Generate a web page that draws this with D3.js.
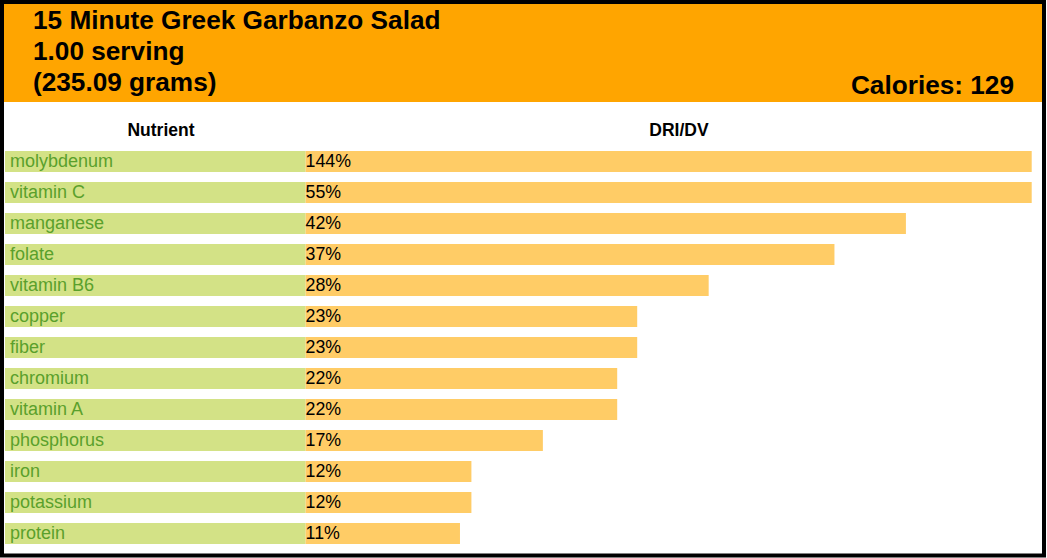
<!DOCTYPE html>
<html>
<head>
<meta charset="utf-8">
<script src="https://cdn.jsdelivr.net/npm/d3@7"></script>
<style>
  html, body { margin: 0; padding: 0; background: #fff; }
  svg { display: block; font-family: "Liberation Sans", Arial, sans-serif; }
</style>
</head>
<body>
<svg id="chart" width="1047" height="558"></svg>
<script>
const titleLines = ["15 Minute Greek Garbanzo Salad", "1.00 serving", "(235.09 grams)"];
const caloriesLabel = "Calories: 129";
const columnHeaders = ["Nutrient", "DRI/DV"];
const nutrients = ["molybdenum", "vitamin C", "manganese", "folate", "vitamin B6", "copper", "fiber", "chromium", "vitamin A", "phosphorus", "iron", "potassium", "protein"];
const dvPercent = [144, 55, 42.0, 37.0, 28.2, 23.2, 23.2, 21.8, 21.8, 16.6, 11.6, 11.6, 10.8];

const svg = d3.select("#chart");

// header
svg.append("rect").attr("x", 4).attr("y", 4).attr("width", 1038).attr("height", 98).attr("fill", "#FFA500");
svg.append("g").selectAll("text").data(titleLines).join("text")
  .attr("x", 33).attr("y", (d, i) => 29 + i * 31)
  .attr("font-size", 26.2).attr("font-weight", "bold").attr("fill", "#000")
  .text(d => d);
svg.append("text").attr("x", 1014).attr("y", 94).attr("text-anchor", "end")
  .attr("font-size", 26.2).attr("font-weight", "bold").attr("fill", "#000").text(caloriesLabel);

// column headers
svg.append("text").attr("x", 161).attr("y", 136).attr("text-anchor", "middle")
  .attr("font-size", 17.5).attr("font-weight", "bold").text(columnHeaders[0]);
svg.append("text").attr("x", 679).attr("y", 136).attr("text-anchor", "middle")
  .attr("font-size", 17.5).attr("font-weight", "bold").text(columnHeaders[1]);

const y = d3.scaleBand().domain(nutrients).range([151, 544]).paddingInner(10 / 31).paddingOuter(0);
const x = d3.scaleLinear().domain([0, 50.8]).range([305.6, 1031.7]).clamp(true);

const rows = svg.append("g").selectAll("g").data(nutrients).join("g")
  .attr("transform", d => `translate(0,${y(d)})`);

rows.append("rect").attr("x", 5).attr("y", 0).attr("width", x(0) - 5).attr("height", y.bandwidth())
  .attr("fill", "#D3E286");
rows.append("rect").attr("x", x(0)).attr("y", 0)
  .attr("width", (d, i) => x(dvPercent[i]) - x(0)).attr("height", y.bandwidth())
  .attr("fill", "#FFCC66");
rows.append("text").attr("x", 10).attr("y", y.bandwidth() / 2 + 5.5)
  .attr("font-size", 18).attr("fill", "#5AA02C").text(d => d);
rows.append("text").attr("x", x(0)).attr("y", y.bandwidth() / 2 + 5.5)
  .attr("font-size", 17.8).attr("fill", "#000").text((d, i) => Math.round(dvPercent[i]) + "%");

// border
svg.append("rect").attr("x", 2).attr("y", 2).attr("width", 1042).attr("height", 553.5)
  .attr("fill", "none").attr("stroke", "#000").attr("stroke-width", 4);
</script>
</body>
</html>
